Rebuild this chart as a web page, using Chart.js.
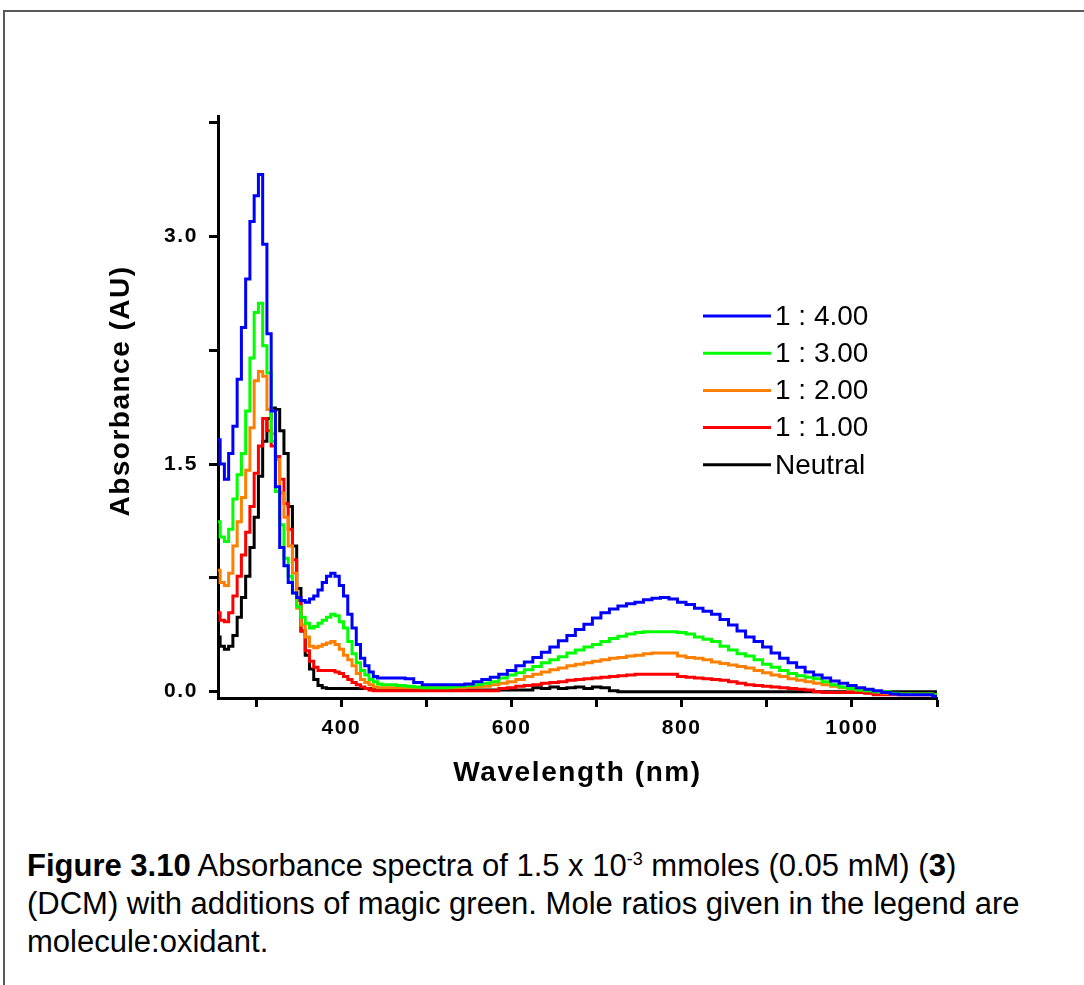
<!DOCTYPE html>
<html>
<head>
<meta charset="utf-8">
<title>Absorbance spectra</title>
<script src="https://cdn.jsdelivr.net/npm/chart.js@4.4.1/dist/chart.umd.min.js"></script>
<style>
  body { margin: 0; background: #fff; overflow: hidden; }
  #frame { position: absolute; left: 3px; top: 10px; width: 1200px; height: 1100px;
           border-top: 2px solid #595959; border-left: 2px solid #595959; }
  #wrap { position: absolute; left: 0; top: 0; width: 1084px; height: 800px; }
  #caption { position: absolute; left: 27px; top: 847px; color: #000; white-space: nowrap;
             font-family: "Liberation Sans", Arial, sans-serif; font-size: 31px; line-height: 38px; }
  #caption sup { font-size: 18px; line-height: 0; vertical-align: super; }
</style>
</head>
<body>
<div id="frame"></div>
<div id="wrap"><canvas id="spectra" width="1084" height="800"></canvas></div>
<div id="caption"><b>Figure 3.10</b> Absorbance spectra of 1.5 x 10<sup>-3</sup> mmoles (0.05 mM) (<b>3</b>)<br>(DCM) with additions of magic green. Mole ratios given in the legend are<br>molecule:oxidant.</div>
<script>
// wavelength grid (nm): 5 nm steps through the UV bands, 10 nm through the NIR band
var wavelength = [
  255, 260, 265, 270, 275, 280, 285, 290, 295, 300, 305, 310, 315, 320, 325, 330, 335, 340, 345, 350,
  355, 360, 365, 370, 375, 380, 385, 390, 395, 400, 405, 410, 415, 420, 425, 430, 435, 440, 445, 450,
  460, 470, 480, 490, 500, 510, 520, 530, 540, 550, 560, 570, 580, 590, 600, 610, 620, 630, 640, 650,
  660, 670, 680, 690, 700, 710, 720, 730, 740, 750, 760, 770, 780, 790, 800, 810, 820, 830, 840, 850,
  860, 870, 880, 890, 900, 910, 920, 930, 940, 950, 960, 970, 980, 990, 1000, 1010, 1020, 1030, 1040, 1050,
  1060, 1070, 1080, 1090, 1100
]

// absorbance (AU) for each molecule:oxidant ratio
var ratio4 = [
  1.66, 1.50, 1.40, 1.57, 1.75, 2.06, 2.40, 2.72, 3.10, 3.27, 3.41, 2.95, 2.36, 1.85, 1.35, 0.95, 0.83, 0.72, 0.65, 0.62,
  0.60, 0.59, 0.61, 0.63, 0.67, 0.72, 0.76, 0.78, 0.76, 0.70, 0.63, 0.51, 0.42, 0.31, 0.22, 0.17, 0.13, 0.10, 0.09, 0.09,
  0.09, 0.09, 0.085, 0.06, 0.045, 0.045, 0.045, 0.045, 0.045, 0.05, 0.065, 0.08, 0.095, 0.115, 0.14, 0.17, 0.195, 0.225, 0.26, 0.295,
  0.335, 0.37, 0.41, 0.445, 0.485, 0.52, 0.545, 0.565, 0.58, 0.59, 0.605, 0.615, 0.62, 0.61, 0.59, 0.575, 0.55, 0.53, 0.51, 0.475,
  0.44, 0.40, 0.36, 0.33, 0.295, 0.255, 0.22, 0.19, 0.16, 0.13, 0.11, 0.09, 0.07, 0.055, 0.04, 0.025, 0.015, 0.005, -0.005, -0.015,
  -0.02, -0.02, -0.02, -0.02, -0.03
]
var ratio3 = [
  1.12, 1.02, 0.99, 1.07, 1.27, 1.43, 1.57, 1.85, 2.20, 2.50, 2.56, 2.28, 2.10, 1.65, 1.32, 1.10, 0.88, 0.76, 0.65, 0.56,
  0.49, 0.45, 0.42, 0.43, 0.45, 0.47, 0.49, 0.51, 0.50, 0.46, 0.42, 0.33, 0.25, 0.19, 0.14, 0.11, 0.08, 0.065, 0.05, 0.045,
  0.045, 0.04, 0.035, 0.03, 0.025, 0.025, 0.025, 0.03, 0.035, 0.04, 0.045, 0.055, 0.065, 0.09, 0.11, 0.125, 0.145, 0.165, 0.19, 0.21,
  0.23, 0.255, 0.275, 0.295, 0.31, 0.33, 0.35, 0.365, 0.38, 0.39, 0.395, 0.395, 0.395, 0.395, 0.39, 0.38, 0.36, 0.345, 0.33, 0.30,
  0.275, 0.25, 0.235, 0.21, 0.18, 0.16, 0.14, 0.12, 0.105, 0.095, 0.085, 0.065, 0.045, 0.03, 0.02, 0.01, 0.005, 0, 0, -0.01,
  -0.015, -0.015, -0.015, -0.015, -0.02
]
var ratio2 = [
  0.80, 0.72, 0.70, 0.78, 0.96, 1.12, 1.28, 1.46, 1.74, 2.05, 2.11, 2.08, 1.86, 1.70, 1.53, 1.31, 1.15, 0.96, 0.78, 0.55,
  0.44, 0.36, 0.30, 0.29, 0.30, 0.31, 0.32, 0.33, 0.31, 0.28, 0.24, 0.21, 0.17, 0.12, 0.08, 0.06, 0.045, 0.03, 0.025, 0.025,
  0.025, 0.025, 0.025, 0.025, 0.025, 0.025, 0.025, 0.025, 0.025, 0.03, 0.03, 0.035, 0.045, 0.055, 0.065, 0.08, 0.10, 0.115, 0.13, 0.145,
  0.155, 0.17, 0.18, 0.19, 0.20, 0.21, 0.22, 0.225, 0.235, 0.24, 0.25, 0.255, 0.255, 0.255, 0.235, 0.225, 0.22, 0.21, 0.195, 0.185,
  0.175, 0.165, 0.155, 0.14, 0.125, 0.11, 0.10, 0.085, 0.075, 0.065, 0.055, 0.045, 0.035, 0.025, 0.015, 0.01, 0.005, 0, -0.01, -0.015,
  -0.015, -0.015, -0.015, -0.015, -0.02
]
var ratio1 = [
  0.52, 0.47, 0.46, 0.52, 0.63, 0.76, 0.90, 1.05, 1.22, 1.44, 1.62, 1.80, 1.72, 1.62, 1.55, 1.40, 1.24, 1.07, 0.87, 0.60,
  0.40, 0.27, 0.20, 0.16, 0.14, 0.14, 0.14, 0.14, 0.13, 0.12, 0.10, 0.08, 0.06, 0.045, 0.03, 0.02, 0.01, 0.005, 0.005, 0.005,
  0.005, 0.005, 0.005, 0.005, 0.005, 0.005, 0.005, 0.005, 0.005, 0.005, 0.005, 0.005, 0.005, 0.02, 0.025, 0.035, 0.04, 0.045, 0.055, 0.06,
  0.065, 0.075, 0.08, 0.085, 0.09, 0.095, 0.10, 0.105, 0.11, 0.115, 0.115, 0.115, 0.115, 0.115, 0.10, 0.095, 0.09, 0.085, 0.08, 0.075,
  0.065, 0.055, 0.045, 0.04, 0.035, 0.03, 0.025, 0.02, 0.015, 0.01, 0, -0.005, -0.005, -0.005, -0.005, -0.005, -0.01, -0.02, -0.02, -0.02,
  -0.02, -0.02, -0.02, -0.02, -0.02
]
var neutral = [
  0.36, 0.30, 0.28, 0.30, 0.37, 0.49, 0.62, 0.76, 0.95, 1.15, 1.42, 1.65, 1.80, 1.87, 1.86, 1.72, 1.57, 1.22, 0.96, 0.68,
  0.40, 0.24, 0.15, 0.08, 0.04, 0.025, 0.02, 0.02, 0.02, 0.02, 0.02, 0.02, 0.02, 0.02, 0.02, 0.02, 0.02, 0.02, 0.02, 0.02,
  0.01, 0.01, 0.01, 0.01, 0.01, 0.01, 0.01, 0.01, 0.01, 0.01, 0.01, 0.01, 0.01, 0.01, 0.01, 0.01, 0.01, 0.025, 0.02, 0.03,
  0.02, 0.025, 0.03, 0.02, 0.03, 0.025, 0.005, 0, 0, 0, 0, 0, 0, 0, 0, 0, 0, 0, 0, 0,
  0, 0, 0, 0, 0, 0, 0, 0, 0, 0, 0, 0, 0, 0, 0, 0, 0, 0, 0, 0,
  0, 0, 0, 0, 0
]

var seriesNames = ['1 : 4.00', '1 : 3.00', '1 : 2.00', '1 : 1.00', 'Neutral']
var seriesValues = [ratio4, ratio3, ratio2, ratio1, neutral]
var seriesColors = ['#0000ff', '#00ff00', '#ff8000', '#ff0000', '#000000']

var xTicks = [300, 400, 500, 600, 700, 800, 900, 1000, 1100]
var xLabels = [400, 600, 800, 1000]
var yTicks = [0, 0.75, 1.5, 2.25, 3, 3.75]
var yLabels = [0, 1.5, 3]

var fontFamily = '"Liberation Sans", Arial, sans-serif'

var datasets = seriesNames.map(function(name, i){
  return {
    label: name,
    data: wavelength.map(function(w, j){ return {x: w, y: seriesValues[i][j]} }),
    borderColor: seriesColors[i],
    backgroundColor: seriesColors[i],
    borderWidth: 3,
    pointRadius: 0,
    stepped: 'middle',
    fill: false
  }
})

// axis text is slightly letter-spaced
var spacedText = {
  id: 'spacedText',
  beforeInit: function(chart){ chart.ctx.letterSpacing = '1.6px' },
  beforeDraw: function(chart){ chart.ctx.letterSpacing = '1.6px' }
}

// legend drawn as short line samples beside the series names
var lineLegend = {
  id: 'lineLegend',
  afterDraw: function(chart){
    var ctx = chart.ctx
    ctx.save()
    ctx.letterSpacing = '0px'
    ctx.font = '28px ' + fontFamily
    ctx.textBaseline = 'middle'
    ctx.textAlign = 'left'
    chart.data.datasets.forEach(function(ds, i){
      var y = 316 + i * 37.2
      ctx.strokeStyle = ds.borderColor
      ctx.lineWidth = 3
      ctx.beginPath()
      ctx.moveTo(703, y)
      ctx.lineTo(771, y)
      ctx.stroke()
      ctx.fillStyle = '#000'
      ctx.fillText(ds.label, 775, y + 1)
    })
    ctx.restore()
  }
}

// y axis title
var yTitle = {
  id: 'yTitle',
  afterDraw: function(chart){
    var ctx = chart.ctx
    ctx.save()
    ctx.letterSpacing = '1.5px'
    ctx.translate(121, 391)
    ctx.rotate(-Math.PI / 2)
    ctx.font = 'bold 28px ' + fontFamily
    ctx.fillStyle = '#000'
    ctx.textAlign = 'center'
    ctx.textBaseline = 'middle'
    ctx.fillText('Absorbance (AU)', 0, 0)
    ctx.restore()
  }
}

var tickFont = {family: fontFamily, size: 21, weight: 'bold'}

new Chart(document.getElementById('spectra'), {
  type: 'line',
  data: {datasets: datasets},
  options: {
    responsive: false,
    animation: false,
    layout: {padding: {left: 0, top: 116, right: 147, bottom: 0}},
    plugins: {legend: {display: false}, tooltip: {enabled: false}},
    scales: {
      x: {
        type: 'linear',
        min: 255,
        max: 1100,
        afterBuildTicks: function(scale){ scale.ticks = xTicks.map(function(v){ return {value: v} }) },
        afterFit: function(scale){ scale.height = 102 },
        grid: {drawOnChartArea: false, drawTicks: true, tickLength: 9, tickWidth: 3, tickColor: '#000'},
        border: {display: true, color: '#000', width: 3},
        ticks: {
          autoSkip: false,
          maxRotation: 0,
          padding: 9,
          color: '#000',
          font: tickFont,
          callback: function(v){ return xLabels.indexOf(v) >= 0 ? String(v) : '' }
        },
        title: {
          display: true,
          text: 'Wavelength (nm)',
          color: '#000',
          font: {family: fontFamily, size: 28, weight: 'bold'},
          padding: {top: 0, bottom: 10}
        }
      },
      y: {
        type: 'linear',
        min: -0.042,
        max: 3.795,
        afterBuildTicks: function(scale){ scale.ticks = yTicks.map(function(v){ return {value: v} }) },
        afterFit: function(scale){ scale.width = 218 },
        grid: {drawOnChartArea: false, drawTicks: true, tickLength: 9, tickWidth: 3, tickColor: '#000'},
        border: {display: true, color: '#000', width: 3},
        ticks: {
          autoSkip: false,
          padding: 11,
          color: '#000',
          font: tickFont,
          callback: function(v){ return yLabels.indexOf(v) >= 0 ? v.toFixed(1) : '' }
        }
      }
    }
  },
  plugins: [spacedText, lineLegend, yTitle]
})
</script>
</body>
</html>
